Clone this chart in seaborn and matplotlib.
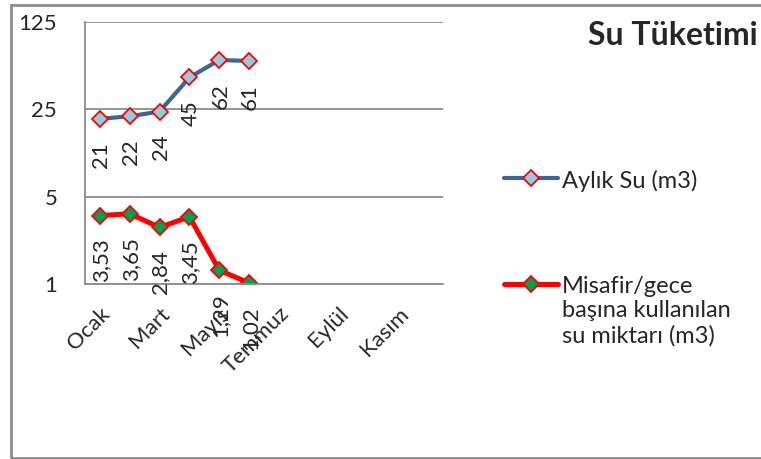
import numpy as np
import pandas as pd
import seaborn as sns
import matplotlib.pyplot as plt
import matplotlib.patches as mpatches
from matplotlib.offsetbox import HPacker

# months on the x axis (only every second one gets a label)
months = ['Ocak', 'Şubat', 'Mart', 'Nisan', 'Mayıs', 'Haziran',
          'Temmuz', 'Ağustos', 'Eylül', 'Ekim', 'Kasım', 'Aralık']
months_with_data = ['Ocak', 'Şubat', 'Mart', 'Nisan', 'Mayıs', 'Haziran']
monthly_water = [21, 22, 24, 45, 62, 61]
per_guest_night = [3.53, 3.65, 2.84, 3.45, 1.29, 1.02]
y_ticks = [1, 5, 25, 125]

label_monthly = 'Aylık Su (m3)'
label_guest = 'Misafir/gece\nbaşına kullanılan\nsu miktarı (m3)'

sns.set_theme(style='white')
plt.rcParams['font.family'] = ['Lato', 'DejaVu Sans']

df = pd.DataFrame({
    'ay': [months.index(m) for m in months_with_data],
    'aylik': monthly_water,
    'misafir': per_guest_night,
})

fig = plt.figure(figsize=(7.61, 4.59), dpi=100)
ax = fig.add_axes([85 / 761, 1 - 284 / 459, 358 / 761, 262 / 459])

sns.lineplot(data=df, x='ay', y='aylik', ax=ax, color='#3d6597', linewidth=3,
             marker='D', markersize=8, markerfacecolor='#93cddd',
             markeredgecolor='red', markeredgewidth=1.3, label=label_monthly)
sns.lineplot(data=df, x='ay', y='misafir', ax=ax, color='red', linewidth=3.6,
             marker='D', markersize=8, markerfacecolor='#00a04e',
             markeredgecolor='red', markeredgewidth=1.3, label=label_guest)

# data labels, rotated, just under each point
for col in ['aylik', 'misafir']:
    for xv, yv in zip(df['ay'], df[col]):
        txt = f'{yv:g}'.replace('.', ',')
        ax.annotate(txt, (xv, yv), xytext=(1, -23), textcoords='offset pixels',
                    rotation=90, ha='center', va='top', fontsize=16,
                    annotation_clip=False)

ax.set_yscale('log', base=5)
ax.set_ylim(1, 125)
ax.set_yticks(y_ticks)
ax.set_yticklabels([str(t) for t in y_ticks], fontsize=16)
ax.minorticks_off()
ax.set_xlim(-0.5, len(months) - 0.5)
ax.set_xticks(range(0, len(months), 2))
ax.set_xticklabels(months[::2], fontsize=16, rotation=45, ha='right',
                   rotation_mode='anchor')
ax.tick_params(axis='y', length=0, pad=20)
ax.tick_params(axis='x', length=0, pad=14)
ax.set_xlabel('')
ax.set_ylabel('')

ax.grid(axis='y', color='#8c8c8c', linewidth=1.3)
for side in ['top', 'right']:
    ax.spines[side].set_visible(False)
for side in ['left', 'bottom']:
    ax.spines[side].set_color('#8c8c8c')
    ax.spines[side].set_linewidth(1.3)

leg = ax.legend(loc='upper left', bbox_to_anchor=(492 / 761, 1 - 158 / 459),
                bbox_transform=fig.transFigure, frameon=False, fontsize=17,
                handlelength=2.3, handletextpad=0.15, labelspacing=3.55,
                borderpad=0)
for pk in leg.findobj(HPacker):
    pk.align = 'top'

fig.text(758 / 761, 1 - 45 / 459, 'Su Tüketimi', ha='right', va='baseline',
         fontsize=23, fontweight='bold')

# chart outline (no right edge, it runs off the picture)
fig.patches.append(mpatches.Rectangle((11 / 761, 1 / 459), 1.0, 453 / 459,
                                      transform=fig.transFigure, fill=False,
                                      edgecolor='#8c8c8c', linewidth=2))

fig.savefig('out.png', dpi=100)
